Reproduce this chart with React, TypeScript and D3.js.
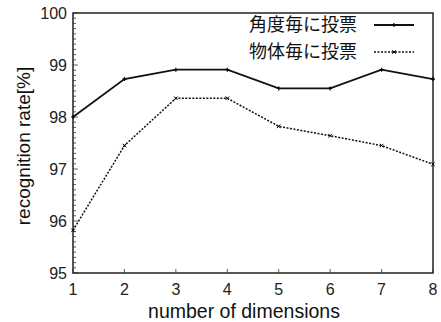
import React from "react";
import * as d3 from "d3";

const dims = [1, 2, 3, 4, 5, 6, 7, 8];
const perAngle = [98.0, 98.73, 98.91, 98.91, 98.55, 98.55, 98.91, 98.73];
const perObject = [95.82, 97.45, 98.36, 98.36, 97.82, 97.64, 97.45, 97.09];
const yTicks = [95, 96, 97, 98, 99, 100];
const seriesNames = ["角度毎に投票", "物体毎に投票"];

const W = 441;
const H = 322;
const margin = { top: 13, right: 8, bottom: 49, left: 73 };

const App = () => {
  const x = d3
    .scaleLinear()
    .domain([1, 8])
    .range([margin.left, W - margin.right]);
  const y = d3
    .scaleLinear()
    .domain([95, 100])
    .range([H - margin.bottom, margin.top]);

  const line = d3
    .line<number>()
    .x((d, i) => x(dims[i]))
    .y((d) => y(d));

  const minor = d3.range(95, 100.001, 0.1);
  const font = "'Liberation Sans', Arial, sans-serif";
  const cjk = "'Noto Sans CJK JP', sans-serif";

  const plus = (cx: number, cy: number, key: string) => (
    <path
      key={key}
      d={`M${cx - 2},${cy}H${cx + 2}M${cx},${cy - 2}V${cy + 2}`}
      stroke="#000"
      strokeWidth={1.2}
    />
  );
  const cross = (cx: number, cy: number, key: string) => (
    <path
      key={key}
      d={`M${cx - 1.8},${cy - 1.8}L${cx + 1.8},${cy + 1.8}M${cx - 1.8},${cy + 1.8}L${cx + 1.8},${cy - 1.8}`}
      stroke="#000"
      strokeWidth={1}
    />
  );

  return (
    <svg
      width={W}
      height={H}
      style={{ position: "absolute", left: 0, top: 0, background: "#fff" }}
    >
      {/* frame */}
      <rect
        x={margin.left}
        y={margin.top}
        width={W - margin.left - margin.right}
        height={H - margin.top - margin.bottom}
        fill="none"
        stroke="#222"
        strokeWidth={1.5}
      />
      {/* minor y ticks */}
      {minor.map((v, i) => (
        <line
          key={"m" + i}
          x1={margin.left}
          x2={margin.left + (i % 10 === 0 ? 5 : 3)}
          y1={y(v)}
          y2={y(v)}
          stroke="#333"
          strokeWidth={0.8}
        />
      ))}
      {yTicks.map((t) => (
        <text
          key={"y" + t}
          x={margin.left - 6}
          y={y(t)}
          dy="0.35em"
          textAnchor="end"
          fontFamily={font}
          fontSize={16}
          fill="#222"
        >
          {t}
        </text>
      ))}
      {dims.map((d) => (
        <g key={"x" + d}>
          <line
            x1={x(d)}
            x2={x(d)}
            y1={H - margin.bottom}
            y2={H - margin.bottom - 4}
            stroke="#333"
            strokeWidth={0.8}
          />
          <text
            x={x(d)}
            y={H - margin.bottom + 22}
            textAnchor="middle"
            fontFamily={font}
            fontSize={16}
            fill="#222"
          >
            {d}
          </text>
        </g>
      ))}
      <text
        x={(margin.left + W - margin.right) / 2 - 9}
        y={H - 4}
        textAnchor="middle"
        fontFamily={font}
        fontSize={19.5}
        fill="#111"
      >
        number of dimensions
      </text>
      <text
        transform={`translate(30,${(margin.top + H - margin.bottom) / 2 + 3}) rotate(-90)`}
        textAnchor="middle"
        fontFamily={font}
        fontSize={19}
        fill="#111"
      >
        recognition rate[%]
      </text>

      {/* series */}
      <path d={line(perAngle) || ""} fill="none" stroke="#111" strokeWidth={1.8} />
      <path
        d={line(perObject) || ""}
        fill="none"
        stroke="#111"
        strokeWidth={1.5}
        strokeDasharray="2,1.5"
      />
      {perAngle.map((v, i) => plus(x(dims[i]), y(v), "a" + i))}
      {perObject.map((v, i) => cross(x(dims[i]), y(v), "b" + i))}

      {/* legend */}
      <text x={357} y={25} dy="0.35em" textAnchor="end" fontFamily={cjk} fontSize={18} fill="#111">
        {seriesNames[0]}
      </text>
      <line x1={374} x2={414} y1={25} y2={25} stroke="#111" strokeWidth={1.8} />
      {plus(394, 25, "la")}
      <text x={357} y={52} dy="0.35em" textAnchor="end" fontFamily={cjk} fontSize={18} fill="#111">
        {seriesNames[1]}
      </text>
      <line
        x1={374}
        x2={414}
        y1={52}
        y2={52}
        stroke="#111"
        strokeWidth={1.5}
        strokeDasharray="2,1.5"
      />
      {cross(394, 52, "lb")}
    </svg>
  );
};

export default App;
